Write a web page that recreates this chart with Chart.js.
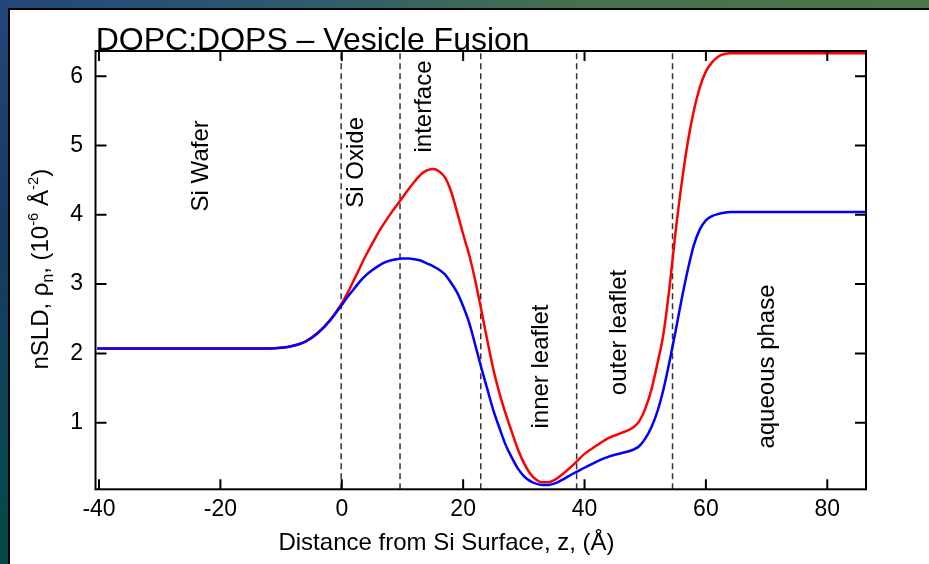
<!DOCTYPE html>
<html><head><meta charset="utf-8">
<script src="https://cdn.jsdelivr.net/npm/chart.js@4/dist/chart.umd.min.js"></script>
<style>
html,body{margin:0;padding:0;width:929px;height:564px;overflow:hidden;}
body{position:relative;background:#1c3d6a;}
#topband{position:absolute;left:0;top:0;width:929px;height:8px;background:linear-gradient(to right,#24467a,#2e5870 30%,#44704f 60%,#4b7848);}
#leftband{position:absolute;left:0;top:0;width:8px;height:564px;background:linear-gradient(to bottom,#24467a,#173a62 40%,#0c4556 75%,#034a44);}
#panel{position:absolute;left:8px;top:8px;width:921px;height:556px;border-left:2px solid #000;border-top:2px solid #000;background:#fff;box-sizing:border-box;}
#c{position:absolute;left:0;top:0;}
</style>
</head><body>
<div id="topband"></div><div id="leftband"></div>
<div id="panel"><canvas id="c" width="919" height="554"></canvas></div>
<script>
// ---- data ----
const zValues = [-40.3,-30,-20,-14,-12,-10,-8,-6,-4,-2,
  0,1,2,3,4,5,6,7,8,9,10,11,12,13,14,15,16,17,18,19,20,21,22,23,24,25,26,27,28,29,30,31,32,33,34,35,36,
  38,40,42,44,46,48,
  49,50,51,52,53,54,55,56,57,58,59,60,61,62,63,64,
  66,70,80,86.4];
const sldBlue = [2.07,2.07,2.07,2.07,2.07,2.08,2.11,2.17,2.29,2.47,
  2.70,2.82,2.93,3.04,3.13,3.20,3.26,3.31,3.34,3.36,3.37,3.37,3.36,3.34,3.30,3.26,3.21,3.14,3.02,2.88,2.68,2.44,2.12,1.79,1.48,1.17,0.92,0.68,0.50,0.34,0.23,0.16,0.12,0.10,0.10,0.12,0.16,
  0.26,0.35,0.44,0.51,0.56,0.61,
  0.66,0.77,0.93,1.16,1.48,1.88,2.32,2.78,3.20,3.56,3.79,3.92,3.98,4.01,4.03,4.04,
  4.04,4.04,4.04,4.04];
const sldRed = [2.07,2.07,2.07,2.07,2.07,2.08,2.11,2.17,2.29,2.47,
  2.72,2.88,3.06,3.24,3.42,3.58,3.74,3.88,4.01,4.13,4.25,4.37,4.48,4.58,4.64,4.66,4.63,4.54,4.34,4.04,3.72,3.42,3.05,2.62,2.18,1.76,1.42,1.13,0.87,0.62,0.42,0.27,0.18,0.14,0.14,0.17,0.23,
  0.38,0.55,0.67,0.78,0.85,0.93,
  1.02,1.20,1.47,1.85,2.28,2.95,3.75,4.45,5.04,5.50,5.84,6.07,6.20,6.28,6.32,6.33,
  6.33,6.33,6.33,6.33];
const boundaries = [-0.1, 9.6, 22.9, 38.7, 54.5];
const xTicks = [-40,-20,0,20,40,60,80];
const yTicks = [1,2,3,4,5,6];
const regionLabels = ['Si Wafer','Si Oxide','interface','inner leaflet','outer leaflet','aqueous phase'];
const regionAnchorZ = [-22.05, 3.47, 14.76, 33.94, 46.9, 71.3];
const regionAnchorRho = [4.707, 4.757, 5.563, 1.811, 2.302, 1.811];
const titleText = 'DOPC:DOPS \u2013 Vesicle Fusion';
const xTitleText = 'Distance from Si Surface, z, (\u00c5)';

// ---- chart ----
const X_MIN=-40.58, X_MAX=86.38, Y_MIN=0.039, Y_MAX=6.364;
const FONT='"Liberation Sans", Arial, Helvetica, sans-serif';
const toPts=(xs,ys)=>xs.map((x,i)=>({x:x,y:ys[i]}));

const datasets=[
  {label:'blue',data:toPts(zValues,sldBlue),borderColor:'#0000ff',borderWidth:2.5,pointRadius:0,showLine:true,cubicInterpolationMode:'monotone',fill:false},
  {label:'red',data:toPts(zValues,sldRed),borderColor:'#ff0000',borderWidth:2.5,pointRadius:0,showLine:true,cubicInterpolationMode:'monotone',fill:false}
].concat(boundaries.map(b=>({label:'b'+b,data:[{x:b,y:Y_MIN},{x:b,y:Y_MAX}],borderColor:'#333333',borderWidth:1.5,borderDash:[6,4],pointRadius:0,showLine:true,fill:false})));

const decor={
  id:'decor',
  afterDatasetsDraw(chart){
    const ctx=chart.ctx, a=chart.chartArea, xs=chart.scales.x, ys=chart.scales.y;
    ctx.save();
    ctx.strokeStyle='#000'; ctx.lineWidth=2;
    ctx.strokeRect(a.left,a.top,a.right-a.left,a.bottom-a.top);
    ctx.beginPath();
    xTicks.forEach(v=>{const p=xs.getPixelForValue(v);ctx.moveTo(p,a.bottom);ctx.lineTo(p,a.bottom-10);ctx.moveTo(p,a.top);ctx.lineTo(p,a.top+10);});
    yTicks.forEach(v=>{const p=ys.getPixelForValue(v);ctx.moveTo(a.left,p);ctx.lineTo(a.left+11,p);ctx.moveTo(a.right,p);ctx.lineTo(a.right-11,p);});
    ctx.stroke();
    ctx.fillStyle='#000';
    // title
    ctx.font='32px '+FONT; ctx.textAlign='left'; ctx.textBaseline='alphabetic';
    ctx.fillText(titleText,a.left+0.2,a.top-1.5);
    // x title
    ctx.font='24px '+FONT; ctx.textAlign='center';
    ctx.fillText(xTitleText,a.left+351,a.bottom+60.5);
    // region labels
    regionLabels.forEach((t,i)=>{
      ctx.save();
      ctx.translate(xs.getPixelForValue(regionAnchorZ[i]),ys.getPixelForValue(regionAnchorRho[i]));
      ctx.rotate(-Math.PI/2);
      ctx.font='24px '+FONT; ctx.textAlign='center'; ctx.textBaseline='alphabetic';
      ctx.fillText(t,0,0);
      ctx.restore();
    });
    // y title with sub/superscripts
    const S=24;
    const segs=[{t:'nSLD, \u03c1',k:1,dy:0},{t:'n',k:0.65,dy:0.22},{t:', (10',k:1,dy:0},{t:'-6',k:0.62,dy:-0.42},{t:' \u00c5',k:1,dy:0},{t:'-2',k:0.62,dy:-0.42},{t:')',k:1,dy:0}];
    let total=0;
    segs.forEach(s=>{ctx.font=(S*s.k)+'px '+FONT;s.w=ctx.measureText(s.t).width;total+=s.w;});
    ctx.save();
    ctx.translate(38,(a.top+a.bottom)/2-1);
    ctx.rotate(-Math.PI/2);
    ctx.textAlign='left'; ctx.textBaseline='alphabetic';
    let x=-total/2;
    segs.forEach(s=>{ctx.font=(S*s.k)+'px '+FONT;ctx.fillText(s.t,x,s.dy*S);x+=s.w;});
    ctx.restore();
    ctx.restore();
  }
};

new Chart(document.getElementById('c'),{
  type:'scatter',
  data:{datasets:datasets},
  options:{
    responsive:false,animation:false,devicePixelRatio:1,
    layout:{padding:{top:41,right:63,left:0,bottom:0}},
    plugins:{legend:{display:false},tooltip:{enabled:false},title:{display:false}},
    elements:{line:{tension:0}},
    scales:{
      x:{type:'linear',min:X_MIN,max:X_MAX,grid:{display:false},border:{display:false},
        ticks:{padding:-1,color:'#000',font:{family:FONT,size:23},autoSkip:false,maxRotation:0},
        afterBuildTicks:s=>{s.ticks=xTicks.map(v=>({value:v}));},
        afterFit:s=>{s.height=74.7;}},
      y:{type:'linear',min:Y_MIN,max:Y_MAX,grid:{display:false},border:{display:false},
        ticks:{padding:4.5,color:'#000',font:{family:FONT,size:23},autoSkip:false},
        afterBuildTicks:s=>{s.ticks=yTicks.map(v=>({value:v}));},
        afterFit:s=>{s.width=85.5;}}
    }
  },
  plugins:[decor]
});
</script>
</body></html>
